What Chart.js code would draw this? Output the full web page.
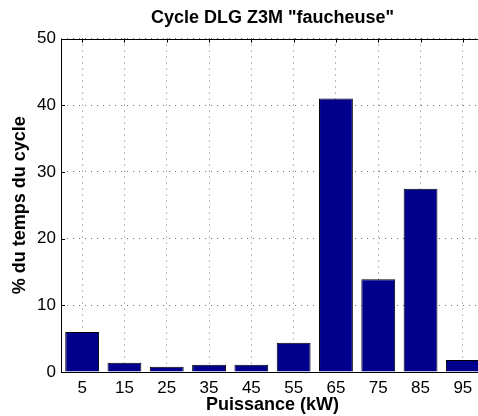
<!DOCTYPE html>
<html>
<head>
<meta charset="utf-8">
<script src="https://cdn.jsdelivr.net/npm/chart.js@4/dist/chart.umd.min.js"></script>
<style>
    html, body { margin: 0; padding: 0; background: #fff; overflow: hidden; }
    #wrap { width: 484px; height: 416px; }
</style>
</head>
<body>
<div id="wrap"><canvas id="cycleChart"></canvas></div>
<script>
// Puissance (kW) : centres des classes
const classes = ['5', '15', '25', '35', '45', '55', '65', '75', '85', '95'];
// % du temps du cycle passé dans chaque classe
const tempsCycle = [6.0, 1.4, 0.8, 1.1, 1.1, 4.4, 41.0, 13.9, 27.5, 1.8];
const yTicks = [0, 10, 20, 30, 40, 50];

const police = "'Liberation Sans', Arial, Helvetica, sans-serif";

// cadre + petites graduations vers l'intérieur, façon Matlab
const cadrePlugin = {
    id: 'cadre',
    afterDraw(chart) {
        const ctx = chart.ctx;
        const a = chart.chartArea;
        const x = chart.scales.x;
        const y = chart.scales.y;
        ctx.save();
        ctx.strokeStyle = '#000';
        ctx.lineWidth = 1;
        ctx.strokeRect(Math.round(a.left) + 0.5, Math.round(a.top) + 0.5,
            Math.round(a.right - a.left), Math.round(a.bottom - a.top));
        ctx.beginPath();
        classes.forEach((c, i) => {
            const px = Math.round(x.getPixelForValue(i)) + 0.5;
            ctx.moveTo(px, a.top);
            ctx.lineTo(px, a.top + 4);
        });
        yTicks.forEach(v => {
            const py = Math.round(y.getPixelForValue(v)) + 0.5;
            ctx.moveTo(a.left, py);
            ctx.lineTo(a.left + 4, py);
        });
        ctx.stroke();
        ctx.restore();
    }
};

new Chart(document.getElementById('cycleChart'), {
    type: 'bar',
    data: {
        labels: classes,
        datasets: [{
            data: tempsCycle,
            backgroundColor: '#00008c',
            borderColor: '#000',
            borderWidth: 1,
            barPercentage: 0.8,
            categoryPercentage: 1.0
        }]
    },
    options: {
        responsive: true,
        maintainAspectRatio: false,
        animation: false,
        layout: { padding: 0 },
        plugins: {
            legend: { display: false },
            tooltip: { enabled: false },
            title: {
                display: true,
                fullSize: false,
                text: 'Cycle DLG Z3M "faucheuse"',
                color: '#000',
                font: { family: police, size: 18, weight: 'bold' },
                padding: { top: 7, bottom: 10 }
            }
        },
        scales: {
            x: {
                offset: true,
                grid: {
                    offset: false,
                    color: 'rgba(0,0,0,0.55)',
                    drawTicks: false
                },
                border: { display: false, dash: [1, 5] },
                ticks: {
                    color: '#000',
                    font: { family: police, size: 17 },
                    padding: 6,
                    maxRotation: 0
                },
                title: {
                    display: true,
                    text: 'Puissance (kW)',
                    color: '#000',
                    font: { family: police, size: 18, weight: 'bold' },
                    padding: { top: 0, bottom: 0 }
                },
                afterFit(scale) { scale.height = 44; }
            },
            y: {
                min: 0,
                max: 50,
                afterBuildTicks(scale) {
                    scale.ticks = yTicks.map(v => ({ value: v }));
                },
                grid: {
                    color: 'rgba(0,0,0,0.55)',
                    drawTicks: false
                },
                border: { display: false, dash: [1, 5] },
                ticks: {
                    color: '#000',
                    font: { family: police, size: 17 },
                    padding: 5
                },
                title: {
                    display: true,
                    text: '% du temps du cycle',
                    color: '#000',
                    font: { family: police, size: 18, weight: 'bold' },
                    padding: { top: 9, bottom: 0 }
                },
                afterFit(scale) { scale.width = 61; }
            }
        }
    },
    plugins: [cadrePlugin]
});
</script>
</body>
</html>
